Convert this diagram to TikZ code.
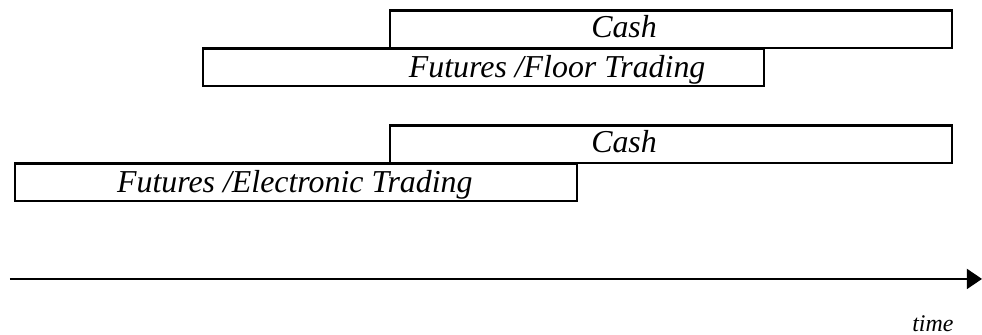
\documentclass[tikz,border=0pt]{standalone}
\usepackage{fontspec}
\setmainfont{Liberation Serif}
\usetikzlibrary{arrows.meta}

\begin{document}
\begin{tikzpicture}
  \tikzset{
    bar_box/.style={rectangle, draw, line width=1.9pt, inner sep=0pt, outer sep=0pt, anchor=south west, minimum height=0.99cm},
    bar_text/.style={font=\fontsize{24}{28}\selectfont\itshape, inner sep=0pt, anchor=base},
    time_line/.style={line width=1.3pt, -{Triangle[length=4mm,width=5.3mm]}}
  }

  % Marco de la figura
  \useasboundingbox (0,0) rectangle (25.98,8.86);

  % Primer escenario: floor trading
  \node[bar_box, minimum width=14.87cm] (cash_a) at (10.32,7.59) {};
  \node[bar_box, minimum width=14.84cm] (floor) at (5.37,6.58) {};
  \node[bar_text] (cash_a_txt) at (16.51,7.86) {Cash};
  \node[bar_text] (floor_txt) at (14.74,6.80) {Futures /Floor Trading};

  % Segundo escenario: electronic trading
  \node[bar_box, minimum width=14.87cm] (cash_b) at (10.32,4.55) {};
  \node[bar_box, minimum width=14.87cm] (elec) at (0.40,3.54) {};
  \node[bar_text] (cash_b_txt) at (16.51,4.82) {Cash};
  \node[bar_text] (elec_txt) at (7.80,3.76) {Futures /Electronic Trading};

  % Eje del tiempo
  \coordinate (t_start) at (0.26,1.48);
  \coordinate (t_end) at (25.98,1.48);
  \draw[time_line] (t_start) -- (t_end);
  \node[font=\fontsize{18}{22}\selectfont\itshape, inner sep=0pt, anchor=base] (time_lbl) at (24.68,0.10) {time};
\end{tikzpicture}
\end{document}
